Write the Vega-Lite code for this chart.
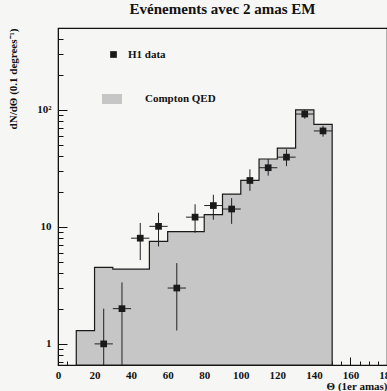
{
  "$schema": "https://vega.github.io/schema/vega-lite/v6.json",
  "width": 329,
  "height": 337,
  "autosize": {"type": "none"},
  "padding": {"left": 58, "top": 28, "right": 0, "bottom": 26},
  "background": "#f6f6f4",
  "title": {"text": "Evénements avec 2 amas EM", "font": "Liberation Serif", "fontSize": 15, "fontWeight": "bold", "anchor": "middle", "offset": 5, "color": "#111111"},
  "config": {
    "view": {"stroke": "#111111", "strokeWidth": 1.2},
    "font": "Liberation Serif",
    "axis": {"labelFont": "Liberation Serif", "labelFontWeight": "bold", "labelFontSize": 11, "labelColor": "#111111", "titleFont": "Liberation Serif", "titleFontWeight": "bold", "titleFontSize": 11, "titleColor": "#111111", "domainColor": "#111111", "tickColor": "#111111", "grid": false, "labelOverlap": false, "labelFlush": false, "labelBound": false},
    "legend": {"labelFont": "Liberation Serif", "labelFontWeight": "bold", "labelFontSize": 11, "labelColor": "#111111"}
  },
  "resolve": {"scale": {"x": "independent"}, "axis": {"x": "independent"}},
  "datasets": {
    "qed": [
      {"theta": 10, "n": 1.3},
      {"theta": 20, "n": 4.5},
      {"theta": 30, "n": 4.35},
      {"theta": 40, "n": 4.35},
      {"theta": 50, "n": 7.5},
      {"theta": 60, "n": 9.1},
      {"theta": 70, "n": 9.1},
      {"theta": 80, "n": 12.7},
      {"theta": 90, "n": 19},
      {"theta": 100, "n": 25},
      {"theta": 110, "n": 38},
      {"theta": 120, "n": 47},
      {"theta": 130, "n": 100},
      {"theta": 140, "n": 75},
      {"theta": 150, "n": 75}
    ],
    "h1": [
      {"theta": 25, "n": 1.0, "lo": 0.5, "hi": 2.0, "tlo": 20, "thi": 30},
      {"theta": 35, "n": 2.0, "lo": 0.5, "hi": 3.35, "tlo": 30, "thi": 40},
      {"theta": 45, "n": 8.0, "lo": 5.2, "hi": 10.8, "tlo": 40, "thi": 50},
      {"theta": 55, "n": 10.1, "lo": 6.8, "hi": 13.2, "tlo": 50, "thi": 60},
      {"theta": 65, "n": 3.0, "lo": 1.3, "hi": 4.9, "tlo": 60, "thi": 70},
      {"theta": 75, "n": 12.1, "lo": 8.9, "hi": 15.6, "tlo": 70, "thi": 80},
      {"theta": 85, "n": 15.2, "lo": 11.5, "hi": 18.8, "tlo": 80, "thi": 90},
      {"theta": 95, "n": 14.2, "lo": 10.6, "hi": 17.6, "tlo": 90, "thi": 100},
      {"theta": 105, "n": 24.9, "lo": 20.3, "hi": 31, "tlo": 100, "thi": 110},
      {"theta": 115, "n": 32, "lo": 27.4, "hi": 38, "tlo": 110, "thi": 120},
      {"theta": 125, "n": 39.4, "lo": 33, "hi": 46, "tlo": 120, "thi": 130},
      {"theta": 135, "n": 92, "lo": 84, "hi": 100, "tlo": 130, "thi": 140},
      {"theta": 145, "n": 66, "lo": 59, "hi": 73, "tlo": 140, "thi": 150}
    ]
  },
  "layer": [
    {
      "data": {"name": "qed"},
      "mark": {"type": "area", "interpolate": "step-after", "stroke": "#1a1a1a", "strokeWidth": 1.2, "fillOpacity": 1},
      "encoding": {
        "x": {"field": "theta", "type": "quantitative", "scale": {"domain": [0, 180], "nice": false, "zero": false},
          "axis": {"orient": "bottom", "title": null, "labels": false, "domain": false, "values": [5,10,15,25,30,35,45,50,55,65,70,75,85,90,95,105,110,115,125,130,135,145,150,155,165,170,175], "tickSize": -4}},
        "y": {"field": "n", "type": "quantitative", "scale": {"type": "log", "domain": [0.66, 500], "nice": false},
          "axis": {"title": "dN/dΘ (0.1 degrees⁻¹)", "titleAnchor": "end", "titlePadding": 18,
            "values": [0.7,0.8,0.9,1,2,3,4,5,6,7,8,9,10,20,30,40,50,60,70,80,90,100,200,300,400,500],
            "labelExpr": "datum.value == 1 ? '1' : datum.value == 10 ? '10' : datum.value == 100 ? '10²' : ''", "labelPadding": 16, "labelOverlap": false,
            "tickSize": {"condition": {"test": "datum.value == 1 || datum.value == 10 || datum.value == 100", "value": -9}, "value": -5}}},
        "y2": {"datum": 0.66},
        "fill": {"datum": "Compton QED", "type": "nominal", "scale": {"range": ["#c6c6c6"]},
          "legend": {"title": null, "orient": "none", "legendX": 44, "legendY": 61, "symbolType": "M-1,-0.5H1V0.5H-1Z", "symbolSize": 400, "symbolStrokeWidth": 0, "labelOffset": 23}}
      }
    },
    {
      "data": {"name": "h1"},
      "mark": {"type": "rule", "color": "#222222", "strokeWidth": 1, "clip": true},
      "encoding": {
        "x": {"field": "theta", "type": "quantitative", "scale": {"domain": [0, 180], "nice": false, "zero": false}, "axis": null},
        "y": {"field": "lo", "type": "quantitative"},
        "y2": {"field": "hi"}
      }
    },
    {
      "data": {"name": "h1"},
      "mark": {"type": "rule", "color": "#222222", "strokeWidth": 1, "clip": true},
      "encoding": {
        "x": {"field": "tlo", "type": "quantitative", "scale": {"domain": [0, 180], "nice": false, "zero": false}, "axis": null},
        "x2": {"field": "thi"},
        "y": {"field": "n", "type": "quantitative"}
      }
    },
    {
      "data": {"name": "h1"},
      "mark": {"type": "point", "filled": true, "color": "#1a1a1a", "opacity": 1, "size": 45},
      "encoding": {
        "x": {"field": "theta", "type": "quantitative", "scale": {"domain": [0, 180], "nice": false, "zero": false},
          "axis": {"orient": "bottom", "title": "Θ (1er amas)", "titleAnchor": "end", "titlePadding": 0, "values": [0,20,40,60,80,100,120,140,160,180], "labelPadding": 12, "tickSize": -8}},
        "y": {"field": "n", "type": "quantitative"},
        "shape": {"datum": "H1 data", "type": "nominal", "scale": {"range": ["square"]},
          "legend": {"title": null, "orient": "none", "legendX": 50, "legendY": 21, "symbolFillColor": "#1a1a1a", "symbolStrokeWidth": 0, "symbolSize": 45, "labelOffset": 9}}
      }
    }
  ]
}
